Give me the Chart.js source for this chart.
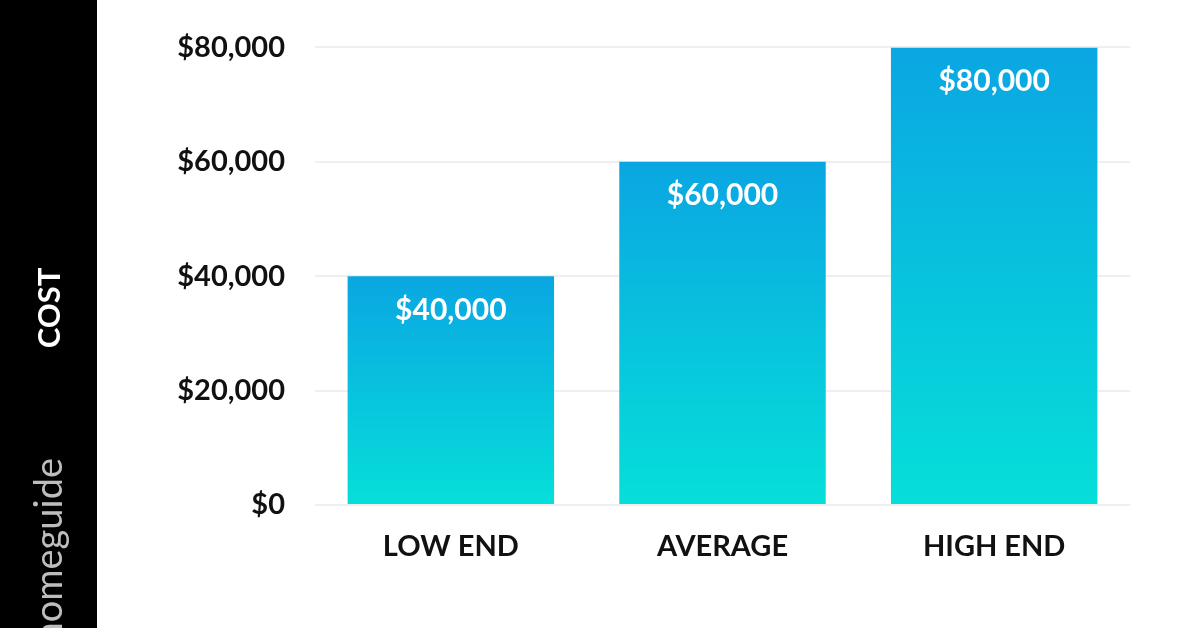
<!DOCTYPE html>
<html>
<head>
<meta charset="utf-8">
<script src="https://cdn.jsdelivr.net/npm/chart.js@4"></script>
<style>
	html, body { margin: 0; padding: 0; background: #fff; }
	#wrap { width: 1196px; height: 628px; }
</style>
</head>
<body>
<div id="wrap"><canvas id="costChart"></canvas></div>
<script>
	// Chart data
	const categories = ['LOW END', 'AVERAGE', 'HIGH END'];
	const costValues = [40000, 60000, 80000];
	const tickValues = [0, 20000, 40000, 60000, 80000];

	const FONT = 'Lato, "Open Sans", sans-serif';

	function money(v) {
		return '$' + v.toLocaleString('en-US');
	}

	// Gradient per bar, from its top (blue) to its base (cyan)
	function barGradient(context) {
		const chart = context.chart;
		const ctx = chart.ctx;
		const yScale = chart.scales.y;
		if ( ! chart.chartArea || ! yScale) {
			return '#0bb8e0';
		}
		const top = yScale.getPixelForValue(costValues[context.dataIndex]);
		const base = yScale.getPixelForValue(0);
		const g = ctx.createLinearGradient(0, top, 0, base);
		g.addColorStop(0, '#0aa6e2');
		g.addColorStop(1, '#06dfd9');
		return g;
	}

	// Black side strip with rotated texts
	const sideStrip = {
		id: 'sideStrip',
		beforeDraw: function (chart) {
			const ctx = chart.ctx;
			ctx.save();
			ctx.fillStyle = '#000';
			ctx.fillRect(0, 0, 97, chart.height);

			ctx.translate(50, 308);
			ctx.rotate(-Math.PI / 2);
			ctx.fillStyle = '#fff';
			ctx.font = 'bold 31px ' + FONT;
			ctx.textAlign = 'center';
			ctx.textBaseline = 'middle';
			ctx.fillText('COST', 0, 0);
			ctx.restore();

			ctx.save();
			ctx.translate(50, 458);
			ctx.rotate(-Math.PI / 2);
			ctx.fillStyle = '#bdbdbd';
			ctx.font = '38px ' + FONT;
			ctx.textAlign = 'right';
			ctx.textBaseline = 'middle';
			ctx.fillText('homeguide', 0, 0);
			ctx.restore();
		}
	};

	// Value labels inside the bars
	const barLabels = {
		id: 'barLabels',
		afterDatasetsDraw: function (chart) {
			const ctx = chart.ctx;
			const meta = chart.getDatasetMeta(0);
			ctx.save();
			ctx.fillStyle = '#fff';
			ctx.font = 'bold 30px ' + FONT;
			ctx.textAlign = 'center';
			ctx.textBaseline = 'middle';
			meta.data.forEach(function (bar, i) {
				ctx.fillText(money(costValues[i]), bar.x, bar.y + 34);
			});
			ctx.restore();
		}
	};

	new Chart(
		document.getElementById('costChart'),
		{
			type: 'bar',
			data: {
				labels: categories,
				datasets: [{
					data: costValues,
					backgroundColor: barGradient,
					borderWidth: 0,
					categoryPercentage: 0.76,
					barPercentage: 1
				}]
			},
			options: {
				responsive: true,
				maintainAspectRatio: false,
				animation: false,
				devicePixelRatio: 1,
				layout: {
					padding: { left: 97, right: 66, top: 39, bottom: 0 }
				},
				plugins: {
					legend: { display: false },
					tooltip: { enabled: false }
				},
				scales: {
					x: {
						grid: { display: false, drawTicks: false },
						border: { display: false },
						ticks: {
							color: '#111',
							padding: 24,
							font: { family: FONT, size: 29, weight: 'bold' }
						},
						afterFit: function (scale) {
							scale.height = 123;
						}
					},
					y: {
						min: 0,
						max: 80000,
						afterBuildTicks: function (scale) {
							scale.ticks = tickValues.map(v => ({ value: v }));
						},
						grid: { color: '#efefef', lineWidth: 2, drawTicks: false },
						border: { display: false },
						ticks: {
							color: '#111',
							padding: 30,
							font: { family: FONT, size: 29, weight: 'bold' },
							callback: function (value) {
								return money(value);
							}
						},
						afterFit: function (scale) {
							scale.width = 218;
						}
					}
				}
			},
			plugins: [sideStrip, barLabels]
		}
	);
</script>
</body>
</html>
